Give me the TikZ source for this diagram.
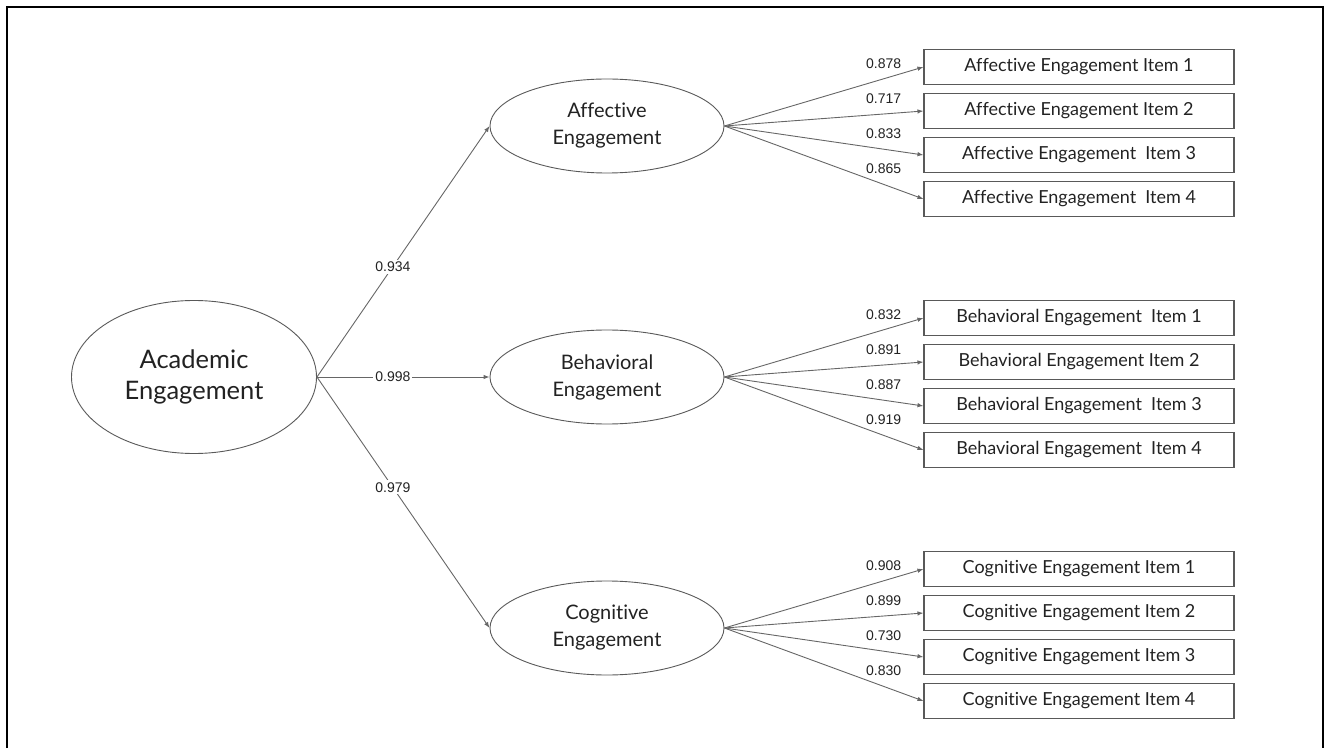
\documentclass[tikz,border=0pt]{standalone}
\usepackage{fontspec}
\setmainfont{Lato}[Ligatures=NoCommon]
\newfontfamily\numfont{Liberation Sans}
\usetikzlibrary{trees,shapes.geometric,arrows.meta}

\definecolor{linegray}{HTML}{666666}
\definecolor{boxgray}{HTML}{595959}
\definecolor{textgray}{HTML}{222222}

\begin{document}
\begin{tikzpicture}[
        grow'=right,
        level 1/.style={level distance=413pt, sibling distance=251pt},
        level 2/.style={level distance=472pt, sibling distance=44pt},
        edge from parent/.style={draw=linegray, line width=0.9pt, -{Latex[length=6pt,width=4.5pt]}},
        edge from parent path={(\tikzparentnode.east) -- (\tikzchildnode.west)},
        factor/.style={ellipse, draw=boxgray, line width=0.9pt, inner sep=0pt, align=center, text=textgray},
        bigfactor/.style={factor, minimum width=245pt, minimum height=153pt, font=\fontsize{25.5}{31}\selectfont},
        subfactor/.style={factor, minimum width=234pt, minimum height=94pt, font=\fontsize{20}{27}\selectfont},
        item/.style={rectangle, draw=boxgray, line width=1.1pt, minimum width=310pt, minimum height=35pt, inner sep=0pt, yshift=-7pt, text=textgray, font=\fontsize{18}{20}\selectfont},
        pathlabel/.style={pos=.44, fill=white, inner sep=2pt, text=textgray, font=\numfont\fontsize{14}{16}\selectfont},
        loadlabel/.style={pos=.8, above=10pt, inner sep=0pt, text=textgray, font=\numfont\fontsize{14}{16}\selectfont}
    ]
    \useasboundingbox (0,0) rectangle (1330pt,748pt);
    \draw[line width=2.2pt] (7pt,0pt) -- (7pt,741pt) -- (1323pt,741pt) -- (1323pt,0pt);
    \node[bigfactor] (aca) at (194pt,371pt) {Academic\\Engagement}
        child {
            node[subfactor] (aff) {Affective\\Engagement}
            child {
                node[item] (aff1) {Affective Engagement Item 1}
                edge from parent node[loadlabel] {0.878}
            }
            child {
                node[item] (aff2) {Affective Engagement Item 2}
                edge from parent node[loadlabel] {0.717}
            }
            child {
                node[item] (aff3) {Affective Engagement\ \ Item 3}
                edge from parent node[loadlabel] {0.833}
            }
            child {
                node[item] (aff4) {Affective Engagement\ \ Item 4}
                edge from parent node[loadlabel] {0.865}
            }
            edge from parent node[pathlabel] {0.934}
        }
        child {
            node[subfactor] (beh) {Behavioral\\Engagement}
            child {
                node[item] (beh1) {Behavioral Engagement\ \ Item 1}
                edge from parent node[loadlabel] {0.832}
            }
            child {
                node[item] (beh2) {Behavioral Engagement Item 2}
                edge from parent node[loadlabel] {0.891}
            }
            child {
                node[item] (beh3) {Behavioral Engagement\ \ Item 3}
                edge from parent node[loadlabel] {0.887}
            }
            child {
                node[item] (beh4) {Behavioral Engagement\ \ Item 4}
                edge from parent node[loadlabel] {0.919}
            }
            edge from parent node[pathlabel] {0.998}
        }
        child {
            node[subfactor] (cog) {Cognitive\\Engagement}
            child {
                node[item] (cog1) {Cognitive Engagement Item 1}
                edge from parent node[loadlabel] {0.908}
            }
            child {
                node[item] (cog2) {Cognitive Engagement Item 2}
                edge from parent node[loadlabel] {0.899}
            }
            child {
                node[item] (cog3) {Cognitive Engagement Item 3}
                edge from parent node[loadlabel] {0.730}
            }
            child {
                node[item] (cog4) {Cognitive Engagement Item 4}
                edge from parent node[loadlabel] {0.830}
            }
            edge from parent node[pathlabel] {0.979}
        };
\end{tikzpicture}
\end{document}
